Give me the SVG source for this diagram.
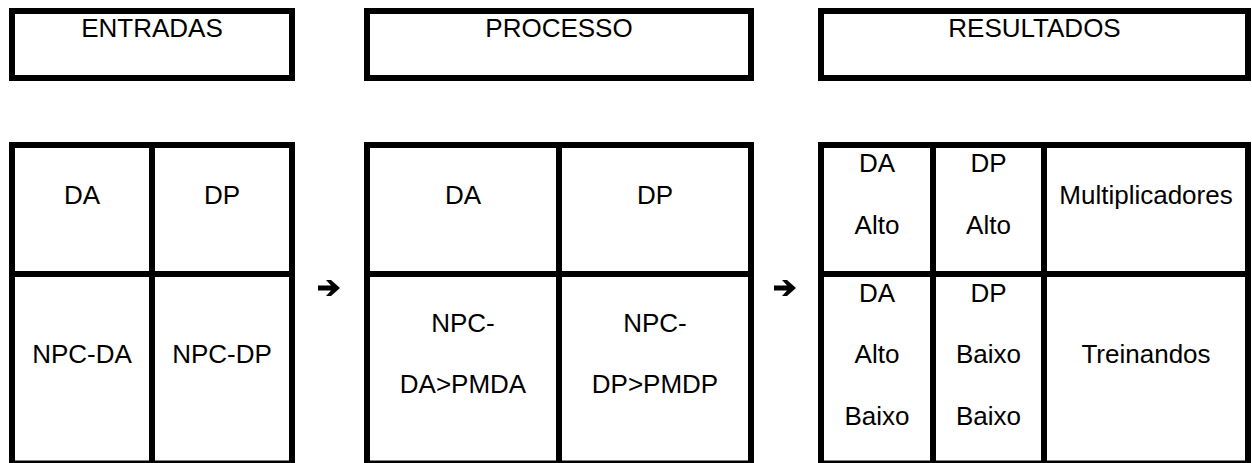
<svg xmlns="http://www.w3.org/2000/svg" width="1252" height="463" viewBox="0 0 1252 463">
  <style>
    .box { fill: none; stroke: #000; stroke-width: 6; }
    .ln { stroke: #000; stroke-width: 6; }
    text { font-family: "Liberation Sans", Arial, sans-serif; font-size: 26px; fill: #000; text-anchor: middle; }
    .arrow { fill: #000; }
  </style>
  <rect width="1252" height="463" fill="#fff"/>

  <g id="entradas">
    <rect class="box" x="12" y="11" width="280" height="67"/>
    <text x="152" y="37">ENTRADAS</text>
  </g>
  <g id="processo">
    <rect class="box" x="367" y="11" width="384" height="67"/>
    <text x="559" y="37">PROCESSO</text>
  </g>
  <g id="resultados">
    <rect class="box" x="821" y="11" width="427" height="67"/>
    <text x="1034.5" y="37">RESULTADOS</text>
  </g>

  <g id="tabela-entradas">
    <rect class="box" x="12" y="145" width="280" height="318.5"/>
    <line class="ln" x1="152" y1="145" x2="152" y2="463.5"/>
    <line class="ln" x1="12" y1="274" x2="292" y2="274"/>
    <text x="82" y="204">DA</text>
    <text x="222" y="204">DP</text>
    <text x="82" y="363">NPC-DA</text>
    <text x="222" y="363">NPC-DP</text>
  </g>

  <g id="tabela-processo">
    <rect class="box" x="367" y="145" width="384" height="318.5"/>
    <line class="ln" x1="559" y1="145" x2="559" y2="463.5"/>
    <line class="ln" x1="367" y1="274" x2="751" y2="274"/>
    <text x="463" y="204">DA</text>
    <text x="655" y="204">DP</text>
    <text x="463" y="332">NPC-</text>
    <text x="463" y="393">DA&gt;PMDA</text>
    <text x="655" y="332">NPC-</text>
    <text x="655" y="393">DP&gt;PMDP</text>
  </g>

  <g id="tabela-resultados">
    <rect class="box" x="821" y="145" width="427" height="318.5"/>
    <line class="ln" x1="933" y1="145" x2="933" y2="463.5"/>
    <line class="ln" x1="1044" y1="145" x2="1044" y2="463.5"/>
    <line class="ln" x1="821" y1="274" x2="1248" y2="274"/>
    <text x="877" y="172">DA</text>
    <text x="877" y="234">Alto</text>
    <text x="988.5" y="172">DP</text>
    <text x="988.5" y="234">Alto</text>
    <text x="1146" y="204">Multiplicadores</text>
    <text x="877" y="302">DA</text>
    <text x="877" y="363">Alto</text>
    <text x="877" y="425">Baixo</text>
    <text x="988.5" y="302">DP</text>
    <text x="988.5" y="363">Baixo</text>
    <text x="988.5" y="425">Baixo</text>
    <text x="1146" y="363">Treinandos</text>
  </g>

  <defs>
    <path id="arr" d="M0,-2.5 L13,-2.5 L8,-8 L13,-8 L22,0 L13,8 L8,8 L13,2.5 L0,2.5 Z"/>
  </defs>
  <g id="connectors">
    <use class="arrow" href="#arr" x="318" y="288"/>
    <use class="arrow" href="#arr" x="774" y="288"/>
  </g>
</svg>
